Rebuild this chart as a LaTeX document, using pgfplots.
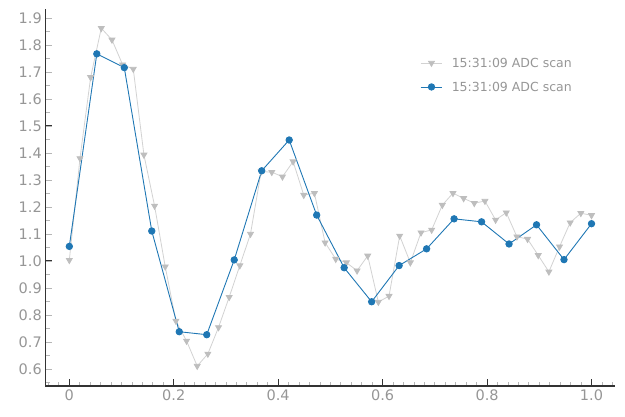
\documentclass[border=0pt]{standalone}
\usepackage{pgfplots}
\pgfplotsset{compat=1.18}
\usepackage{fontspec}
\setmainfont{DejaVu Sans}
\definecolor{mplblue}{HTML}{1F77B4}
\definecolor{lblgray}{RGB}{150,150,150}
\definecolor{trigray}{RGB}{190,190,190}
\definecolor{linegray}{RGB}{210,210,210}
\definecolor{spine}{RGB}{51,51,51}
\newcommand\tl[1]{\mbox{\fontsize{14.5bp}{17bp}\selectfont\color{lblgray}#1}}
\begin{document}
\begin{tikzpicture}
\useasboundingbox (-45.3bp,-31bp) rectangle (579.7bp,386bp);
\begin{axis}[
  scale only axis,
  width=569.7bp, height=376.7bp,
  xmin=-0.046, xmax=1.045,
  ymin=0.537, ymax=1.932,
  axis x line*=bottom, axis y line*=left,
  axis line style={spine, line width=1.1bp, -},
  tick align=inside,
  xtick={0,0.2,0.4,0.6,0.8,1.0},
  xticklabels={\tl{0},\tl{0.2},\tl{0.4},\tl{0.6},\tl{0.8},\tl{1.0}},
  minor xtick={-0.04,-0.02,0.02,0.04,0.06,0.08,0.1,0.12,0.14,0.16,0.18,0.22,0.24,0.26,0.28,0.3,0.32,0.34,0.36,0.38,0.42,0.44,0.46,0.48,0.5,0.52,0.54,0.56,0.58,0.62,0.64,0.66,0.68,0.7,0.72,0.74,0.76,0.78,0.82,0.84,0.86,0.88,0.9,0.92,0.94,0.96,0.98,1.02,1.04},
  ytick={0.6,0.7,0.8,0.9,1.0,1.1,1.2,1.3,1.4,1.5,1.6,1.7,1.8,1.9},
  yticklabels={\tl{0.6},\tl{0.7},\tl{0.8},\tl{0.9},\tl{1.0},\tl{1.1},\tl{1.2},\tl{1.3},\tl{1.4},\tl{1.5},\tl{1.6},\tl{1.7},\tl{1.8},\tl{1.9}},
  minor ytick={0.55,0.65,0.75,0.85,0.95,1.05,1.15,1.25,1.35,1.45,1.55,1.65,1.75,1.85},
  extra y ticks={1.0,1.5},
  extra y tick labels={},
  extra y tick style={major tick length=7bp, ytick style={spine, line width=1bp}},
  xtick style={spine, line width=1bp},
  ytick style={lblgray!70, line width=0.8bp},
  minor x tick style={lblgray!70, line width=0.8bp},
  minor y tick style={lblgray!70, line width=0.8bp},
  major tick length=7bp,
  minor tick length=4.5bp,
  tick label style={text=lblgray},
  legend cell align=left,
  legend style={at={(0.6577,0.870)}, anchor=north west, draw=none, fill=none,
    inner sep=0pt, row sep=15bp, column sep=9bp,
    font=\fontsize{12.5bp}{15bp}\selectfont, text=lblgray,
    nodes={inner sep=0pt, text height=9bp, text depth=0bp}},
  legend image code/.code={%
    \draw[mark repeat=2,mark phase=2,#1] plot coordinates {(0bp,0bp)(10.85bp,0bp)(21.7bp,0bp)};},
]
\addplot[linegray, line width=0.8bp, mark=triangle*, mark size=3.4bp,
  mark options={rotate=180, fill=trigray, draw=trigray, solid}] coordinates {
(0,1.003) (0.020408,1.380) (0.040816,1.680) (0.061224,1.862) (0.081633,1.819)
(0.102041,1.727) (0.122449,1.711) (0.142857,1.393) (0.163265,1.204) (0.183673,0.979)
(0.204082,0.778) (0.224490,0.704) (0.244898,0.611) (0.265306,0.656) (0.285714,0.754)
(0.306122,0.866) (0.326531,0.983) (0.346939,1.100) (0.367347,1.331) (0.387755,1.329)
(0.408163,1.312) (0.428571,1.368) (0.448980,1.244) (0.469388,1.251) (0.489796,1.068)
(0.510204,1.007) (0.530612,0.994) (0.551020,0.964) (0.571429,1.019) (0.591837,0.848)
(0.612245,0.870) (0.632653,1.093) (0.653061,0.994) (0.673469,1.105) (0.693878,1.115)
(0.714286,1.207) (0.734694,1.251) (0.755102,1.232) (0.775510,1.214) (0.795918,1.222)
(0.816327,1.152) (0.836735,1.179) (0.857143,1.090) (0.877551,1.081) (0.897959,1.021)
(0.918367,0.960) (0.938776,1.053) (0.959184,1.142) (0.979592,1.177) (1.0,1.169)
};
\addlegendentry{15:31:09 ADC scan}
\addplot[mplblue, line width=0.9bp, mark=*, mark size=3.2bp,
  mark options={fill=mplblue, draw=mplblue, solid}] coordinates {
(0,1.054) (0.052632,1.767) (0.105263,1.716) (0.157895,1.111) (0.210526,0.738)
(0.263158,0.727) (0.315789,1.004) (0.368421,1.334) (0.421053,1.448) (0.473684,1.170)
(0.526316,0.975) (0.578947,0.849) (0.631579,0.983) (0.684211,1.045) (0.736842,1.156)
(0.789474,1.145) (0.842105,1.063) (0.894737,1.134) (0.947368,1.005) (1.0,1.138)
};
\addlegendentry{15:31:09 ADC scan}
\end{axis}
\end{tikzpicture}
\end{document}
